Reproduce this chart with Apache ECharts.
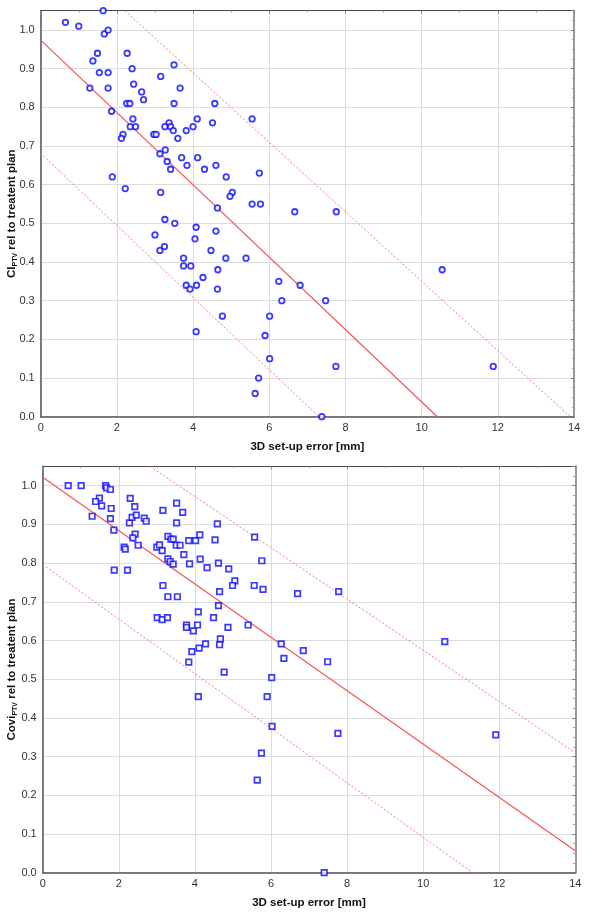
<!DOCTYPE html>
<html>
<head>
<meta charset="utf-8">
<script src="https://cdn.jsdelivr.net/npm/echarts@6/dist/echarts.min.js"></script>
<style>
html,body{margin:0;padding:0;background:#fff;}
#c{width:600px;height:916px;}
</style>
</head>
<body>
<div id="c"></div>
<script>
// ---- Data ----
const xTicks = [0, 2, 4, 6, 8, 10, 12, 14];
const yTicks = [0.0, 0.1, 0.2, 0.3, 0.4, 0.5, 0.6, 0.7, 0.8, 0.9, 1.0];

// Top panel: CI_PTV vs 3D set-up error
const ciX = [0.65,1.0,1.64,1.67,1.77,1.49,1.37,1.54,1.77,1.29,1.77,1.86,1.88,2.27,2.40,2.44,2.65,2.70,2.26,2.34,2.42,2.35,2.49,2.16,2.12,2.22,3.15,3.50,3.66,3.50,4.57,4.11,4.00,4.51,5.55,3.37,3.26,3.41,3.48,3.82,3.60,2.97,3.03,3.27,3.13,3.70,4.12,3.32,3.84,4.60,3.41,4.30,4.87,5.74,3.15,5.03,4.97,4.64,5.55,5.77,6.67,7.76,3.26,3.52,4.08,4.60,3.00,4.05,3.13,3.25,4.47,3.75,4.86,5.39,3.75,3.94,4.65,4.26,3.82,4.09,3.92,4.64,6.25,6.33,6.81,4.77,6.01,4.08,5.89,6.01,5.72,5.63,7.48,10.54,7.75,11.88,7.38];
const ciY = [1.02,1.01,1.05,0.99,1.00,0.94,0.92,0.89,0.89,0.85,0.85,0.79,0.62,0.94,0.90,0.86,0.84,0.82,0.81,0.81,0.77,0.75,0.75,0.73,0.72,0.59,0.88,0.91,0.85,0.81,0.81,0.77,0.75,0.76,0.77,0.76,0.75,0.75,0.74,0.74,0.72,0.73,0.73,0.69,0.68,0.67,0.67,0.66,0.65,0.65,0.64,0.64,0.62,0.63,0.58,0.58,0.57,0.54,0.55,0.55,0.53,0.53,0.51,0.50,0.49,0.48,0.47,0.46,0.43,0.44,0.43,0.41,0.41,0.41,0.39,0.39,0.38,0.36,0.34,0.34,0.33,0.33,0.35,0.30,0.34,0.26,0.26,0.22,0.21,0.15,0.10,0.06,0.30,0.38,0.13,0.13,0.00];
const ciFit = [[0, 0.974], [10.41, 0]];
const ciLower = [[0, 0.681], [7.3, 0]];
const ciUpper = [[2.21, 1.05], [13.9, 0]];

// Bottom panel: Covi_PTV vs 3D set-up error
const coviX = [0.67,1.01,1.65,1.68,1.78,1.49,1.39,1.55,1.80,1.30,1.78,1.87,1.88,2.30,2.42,2.28,2.35,2.46,2.67,2.72,2.43,2.37,2.51,2.14,2.17,2.23,3.16,3.52,3.68,3.52,4.59,3.00,3.07,3.14,3.29,3.37,3.43,3.51,3.61,3.84,4.02,4.13,4.53,3.71,3.29,3.35,3.43,3.86,4.14,4.32,4.62,4.89,5.05,4.99,5.57,5.76,5.56,5.79,6.70,3.16,3.29,3.54,4.65,4.62,4.09,3.01,3.14,3.28,4.49,3.78,3.78,3.96,4.07,4.87,5.40,4.67,4.65,4.28,4.11,3.92,3.84,4.77,6.27,6.34,6.02,6.85,7.49,7.78,10.57,4.09,5.90,6.03,5.75,5.64,7.76,11.91,7.40];
const coviY = [1.0,1.0,1.0,0.994,0.99,0.968,0.959,0.948,0.941,0.921,0.915,0.885,0.782,0.967,0.946,0.904,0.918,0.924,0.916,0.908,0.875,0.865,0.846,0.841,0.836,0.782,0.936,0.955,0.931,0.904,0.901,0.841,0.847,0.832,0.869,0.862,0.862,0.846,0.846,0.858,0.858,0.873,0.860,0.822,0.811,0.804,0.797,0.798,0.810,0.788,0.800,0.785,0.754,0.742,0.867,0.806,0.742,0.732,0.721,0.742,0.713,0.713,0.726,0.690,0.674,0.659,0.654,0.659,0.659,0.640,0.634,0.625,0.640,0.634,0.640,0.604,0.589,0.591,0.580,0.571,0.544,0.518,0.591,0.554,0.504,0.574,0.545,0.726,0.597,0.455,0.455,0.378,0.309,0.239,0.360,0.356,0.0];
const coviFit = [[0, 1.022], [14, 0.057]];
const coviLower = [[0, 0.796], [11.3, 0]];
const coviUpper = [[2.82, 1.05], [14, 0.310]];

const xName = '3D set-up error [mm]';
const ciName = ['CI', 'PTV', ' rel to treatent plan'];
const coviName = ['Covi', 'PTV', ' rel to treatent plan'];

// ---- Styling / building ----
const pairs = (xs, ys) => xs.map((x, i) => [x, ys[i]]);
const BLUE = '#0a0aff';
const RED = '#f25555';
const DOT = '#f47a7a';
const GRIDC = '#dcdcdc';
const FONT = 'Liberation Sans, Arial, sans-serif';

const labelStyle = { color: '#333', fontSize: 11, fontFamily: FONT };
const richName = {
  fontWeight: 'bold', fontSize: 11.5, color: '#111', fontFamily: FONT,
  rich: {
    b: { fontWeight: 'bold', fontSize: 11.5, color: '#111', fontFamily: FONT, lineHeight: 13 },
    s: { fontWeight: 'bold', fontSize: 7, color: '#111', fontFamily: FONT, lineHeight: 13, verticalAlign: 'bottom', padding: [4, 0, 0, 0] }
  }
};
const mkName = a => '{b|' + a[0] + '}{s|' + a[1] + '}{b|' + a[2] + '}';

function xAxes(gi) {
  return [{
    type: 'value', gridIndex: gi, min: xTicks[0], max: xTicks[xTicks.length - 1], interval: 2,
    name: xName, nameLocation: 'middle', nameGap: 24, nameMoveOverlap: false,
    nameTextStyle: { fontWeight: 'bold', fontSize: 11.5, color: '#111', fontFamily: FONT },
    axisLine: { show: true, onZero: false, lineStyle: { color: '#555', width: 1.5 } },
    axisTick: { show: false },
    axisLabel: Object.assign({ margin: 6, formatter: v => String(v) }, labelStyle),
    splitLine: { show: true, lineStyle: { color: GRIDC, width: 1 } }
  }, {
    type: 'value', gridIndex: gi, position: 'top', min: 0, max: 14, interval: 2,
    axisLine: { show: true, onZero: false, lineStyle: { color: '#444', width: 1 } },
    axisTick: { show: true, inside: true, length: 3, lineStyle: { color: '#888' } },
    minorTick: { show: true, splitNumber: 2, length: 2, lineStyle: { color: '#aaa' } },
    axisLabel: { show: false }, splitLine: { show: false }
  }];
}
function yAxes(gi, nameArr, gap) {
  return [{
    type: 'value', gridIndex: gi, min: 0, max: 1.05, interval: 0.1,
    name: mkName(nameArr), nameLocation: 'middle', nameGap: gap, nameRotate: 90, nameMoveOverlap: false,
    nameTextStyle: richName,
    axisLine: { show: true, onZero: false, lineStyle: { color: '#555', width: 1.5 } },
    axisTick: { show: false },
    axisLabel: Object.assign({ margin: 6, showMaxLabel: false, formatter: v => v.toFixed(1) }, labelStyle),
    splitLine: { show: true, showMaxLine: false, lineStyle: { color: GRIDC, width: 1 } }
  }, {
    type: 'value', gridIndex: gi, position: 'right', min: 0, max: 1.05, interval: 0.1,
    axisLine: { show: true, onZero: false, lineStyle: { color: '#9a9a9a', width: 2 } },
    axisTick: { show: true, inside: true, length: 3, lineStyle: { color: '#777' } },
    minorTick: { show: true, splitNumber: 4, length: 2, lineStyle: { color: '#999' } },
    axisLabel: { show: false }, splitLine: { show: false }
  }];
}
function lineSeries(data, xi, yi, dotted) {
  return {
    type: 'line', xAxisIndex: xi, yAxisIndex: yi, data: data, symbol: 'none', silent: true,
    lineStyle: dotted ? { color: DOT, width: 1, type: [2, 2] } : { color: RED, width: 1.2 },
    z: 1, animation: false
  };
}

const chart = echarts.init(document.getElementById('c'), null, { renderer: 'canvas' });
chart.setOption({
  animation: false,
  backgroundColor: '#fff',
  grid: [
    { left: 40.7, top: 10.7, right: 26, height: 406, containLabel: false, outerBoundsMode: 'none' },
    { left: 42.7, top: 466.3, right: 24.7, height: 406.4, containLabel: false, outerBoundsMode: 'none' }
  ],
  xAxis: [...xAxes(0), ...xAxes(1)],
  yAxis: [...yAxes(0, ciName, 22), ...yAxes(1, coviName, 24)],
  series: [
    lineSeries(ciFit, 0, 0, false),
    lineSeries(ciLower, 0, 0, true),
    lineSeries(ciUpper, 0, 0, true),
    {
      type: 'scatter', xAxisIndex: 0, yAxisIndex: 0, data: pairs(ciX, ciY),
      symbol: 'circle', symbolSize: 5.5,
      itemStyle: { color: '#fff', borderColor: BLUE, borderWidth: 1.8 }, z: 3
    },
    lineSeries(coviFit, 2, 2, false),
    lineSeries(coviLower, 2, 2, true),
    lineSeries(coviUpper, 2, 2, true),
    {
      type: 'scatter', xAxisIndex: 2, yAxisIndex: 2, data: pairs(coviX, coviY),
      symbol: 'rect', symbolSize: 5.5,
      itemStyle: { color: '#fff', borderColor: BLUE, borderWidth: 1.7 }, z: 3
    }
  ]
});
</script>
</body>
</html>
